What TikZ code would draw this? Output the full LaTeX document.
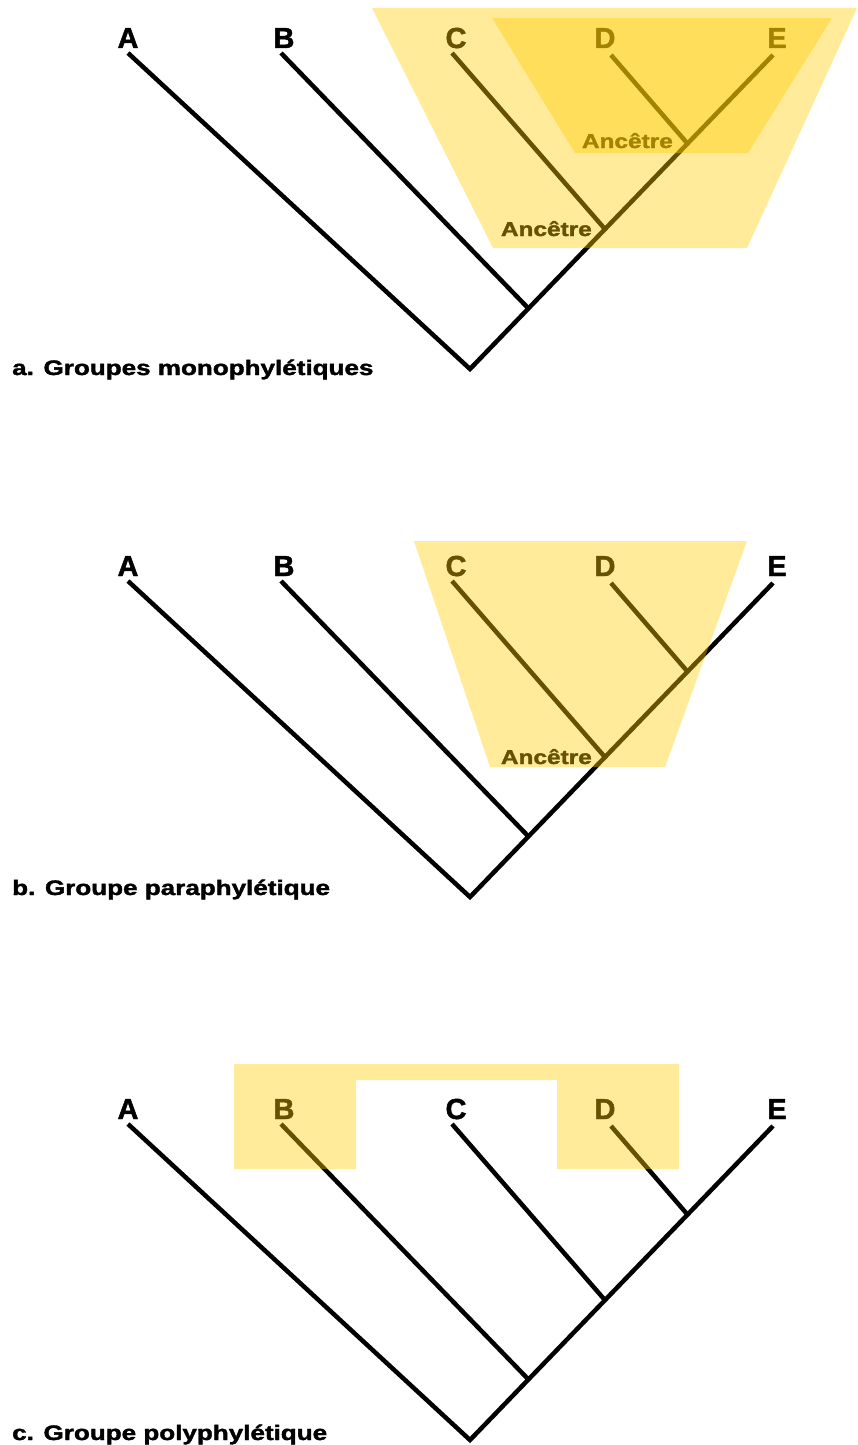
\documentclass[tikz,border=0pt]{standalone}
\usepackage{fontspec, graphicx, xcolor}
\setmainfont{Liberation Sans}
\newfontfamily\gras{Liberation Sans Bold}[FakeBold=1.6]
\definecolor{jaune}{RGB}{255,204,0}

% arbre commun aux trois panneaux
\newcommand{\arbre}{%
    \coordinate (racine) at (470,369);
    \coordinate (nB) at (528,308);
    \coordinate (nC) at (604,228);
    \coordinate (nD) at (687,143);
    \coordinate (tA) at (128,53);
    \coordinate (tB) at (281,53);
    \coordinate (tC) at (452,53);
    \coordinate (tD) at (611,55);
    \coordinate (tE) at (773,55);
    \node [taxon] (A) at (128,48) {A};
    \node [taxon] (B) at (284,48) {B};
    \node [taxon] (C) at (456,48) {C};
    \node [taxon] (D) at (605,48) {D};
    \node [taxon] (E) at (777,48) {E};
    \draw [branche] (tA) -- (racine) -- (tE);
    \draw [branche] (tB) -- (nB);
    \draw [branche] (tC) -- (nC);
    \draw [branche] (tD) -- (nD);
}

\begin{document}
\begin{tikzpicture}[x=1pt, y=-1pt,
    branche/.style={line width=4.5pt},
    taxon/.style={anchor=base, inner sep=0, font=\fontsize{29}{33}\selectfont\gras},
    titre/.style={anchor=base west, inner sep=0, font=\fontsize{21}{25}\selectfont\gras},
    ancetre/.style={anchor=base east, inner sep=0, font=\fontsize{20}{24}\selectfont\gras},
    groupe/.style={fill=jaune, fill opacity=0.4}]
    \useasboundingbox (0,0) rectangle (857,1445);

    % a. monophyletiques
    \begin{scope}[name prefix=a-]
        \arbre
        \node [ancetre] (anc1) at (592,236) {\scalebox{1.22}[1]{Ancêtre}};
        \node [ancetre] (anc2) at (673,148) {\scalebox{1.22}[1]{Ancêtre}};
        \fill [groupe] (372,8) -- (857,8) -- (747,248) -- (493,248) -- cycle;
        \fill [groupe] (492,18) -- (832,18) -- (748,153) -- (575,153) -- cycle;
        \node [titre] (titre) at (12,375) {\scalebox{1.24}[1]{a. Groupes monophylétiques}};
    \end{scope}

    % b. paraphyletique
    \begin{scope}[name prefix=b-, shift={(0,528)}]
        \arbre
        \node [ancetre] (anc1) at (592,236) {\scalebox{1.22}[1]{Ancêtre}};
        \fill [groupe] (414,13) -- (747,13) -- (665,239) -- (490,239) -- cycle;
        \node [titre] (titre) at (12,367) {\scalebox{1.24}[1]{b. Groupe paraphylétique}};
    \end{scope}

    % c. polyphyletique
    \begin{scope}[name prefix=c-, shift={(0,1071)}]
        \arbre
        \fill [groupe] (234,-7) -- (679,-7) -- (679,98) -- (557,98) -- (557,9)
            -- (356,9) -- (356,98) -- (234,98) -- cycle;
        \node [titre] (titre) at (12,369) {\scalebox{1.24}[1]{c. Groupe polyphylétique}};
    \end{scope}
\end{tikzpicture}
\end{document}
